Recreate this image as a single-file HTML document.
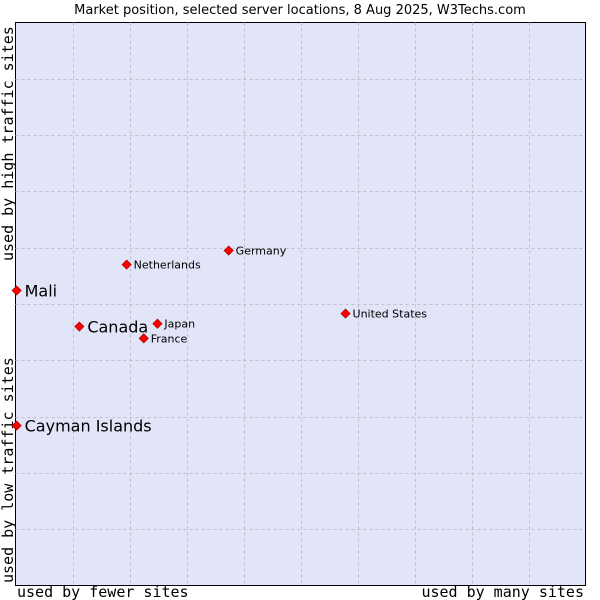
<!DOCTYPE html>
<html><head><meta charset="utf-8"><style>
html,body{margin:0;padding:0;background:#fff;}
svg{display:block;}
</style></head><body>
<svg id="chart" width="600" height="600" xmlns="http://www.w3.org/2000/svg">
<text x="300" y="14" text-anchor="middle" font-family="DejaVu Sans, sans-serif" font-size="13" fill="#000">Market position, selected server locations, 8 Aug 2025, W3Techs.com</text>
<rect x="15.5" y="22.5" width="570" height="563" fill="#e2e4f8" stroke="#000" stroke-width="1"/>
<g id="grid"></g>
<text x="17" y="597" font-family="DejaVu Sans Mono, monospace" font-size="15" fill="#000">used by fewer sites</text>
<text x="584" y="597" text-anchor="end" font-family="DejaVu Sans Mono, monospace" font-size="15" fill="#000">used by many sites</text>
<text transform="translate(13,583) rotate(-90)" font-family="DejaVu Sans Mono, monospace" font-size="15" fill="#000">used by low traffic sites</text>
<text transform="translate(13,261) rotate(-90)" font-family="DejaVu Sans Mono, monospace" font-size="15" fill="#000">used by high traffic sites</text>
<g id="points"></g>
</svg>
<script>
const countries = ["Mali","Canada","Cayman Islands","Netherlands","Germany","United States","Japan","France"];
const xValues = [0.2, 11.2, 0.2, 19.5, 37.4, 57.9, 24.9, 22.5];
const yValues = [52.4, 46.0, 28.4, 57.0, 59.5, 48.3, 46.5, 43.9];
const highlighted = [true, true, true, false, false, false, false, false];
const NS = "http://www.w3.org/2000/svg";
const L=15.5, T=22.5, W=570, H=563;
function xs(v){return L + v/100*W;}
function ys(v){return T + H - v/100*H;}
const grid=document.getElementById('grid');
for(let i=1;i<10;i++){
  const gx=document.createElementNS(NS,'line');
  const px=Math.round(L+i*W/10)+0.5;
  gx.setAttribute('x1',px);gx.setAttribute('x2',px);gx.setAttribute('y1',T);gx.setAttribute('y2',T+H);
  gx.setAttribute('stroke','#c0c0c8');gx.setAttribute('stroke-dasharray','3,3');
  
  
  grid.appendChild(gx);
  const gy=document.createElementNS(NS,'line');
  const py=Math.round(T+i*H/10)+0.5;
  gy.setAttribute('y1',py);gy.setAttribute('y2',py);gy.setAttribute('x1',L);gy.setAttribute('x2',L+W);
  gy.setAttribute('stroke','#c0c0c8');gy.setAttribute('stroke-dasharray','3,3');
  
  
  grid.appendChild(gy);
}
const pts=document.getElementById('points');
countries.forEach((c,i)=>{
  const x=xs(xValues[i]), y=ys(yValues[i]);
  const m=document.createElementNS(NS,'path');
  m.setAttribute('d',`M${x} ${y-4.5}L${x+4.5} ${y}L${x} ${y+4.5}L${x-4.5} ${y}Z`);
  m.setAttribute('fill','#ff0000');m.setAttribute('stroke','#b00000');m.setAttribute('stroke-width','0.8');
  
  
  pts.appendChild(m);
  const t=document.createElementNS(NS,'text');
  const big=highlighted[i];
  t.setAttribute('x',x+(big?8:7));t.setAttribute('y',y+(big?6:4));
  t.setAttribute('font-family','DejaVu Sans, sans-serif');
  t.setAttribute('font-size',big?'16':'11');
  t.setAttribute('fill','#000');
  t.textContent=c;
  
  
  pts.appendChild(t);
});
</script>
</body></html>
